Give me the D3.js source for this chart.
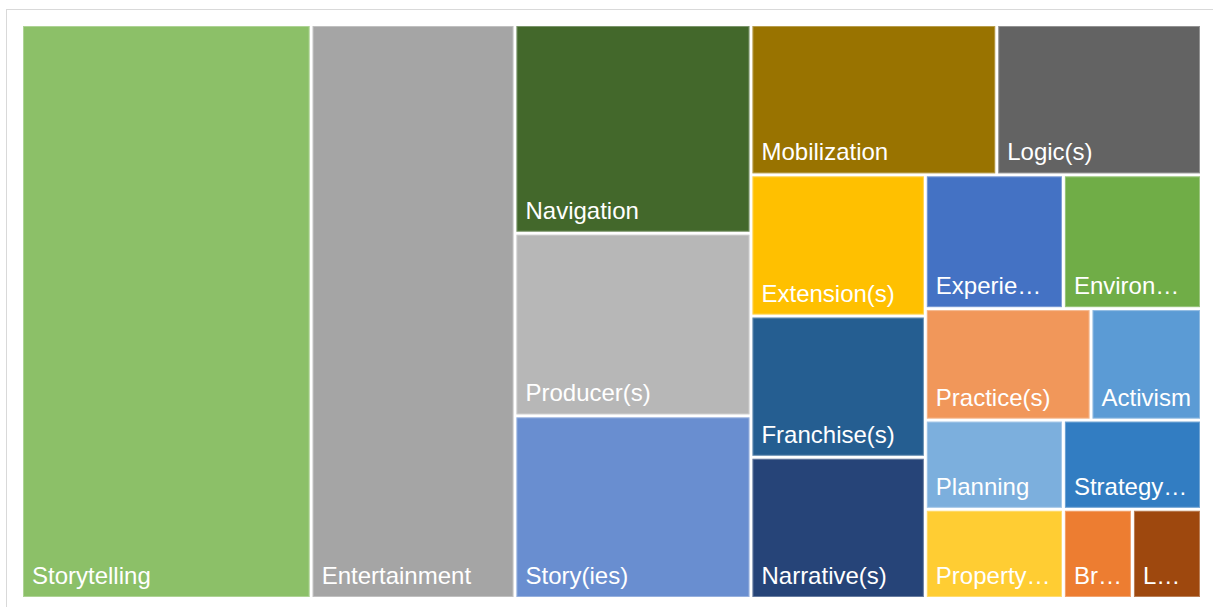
<!DOCTYPE html>
<html>
<head>
<meta charset="utf-8">
<script src="https://cdnjs.cloudflare.com/ajax/libs/d3/7.8.5/d3.min.js"></script>
<style>
  body { margin: 0; background: #fff; }
  svg { display: block; }
  .cell-label { font-family: "Liberation Sans", Arial, sans-serif; font-size: 24px; fill: #fff; }
</style>
</head>
<body>
<div id="chart"></div>
<script>
// Transmedia keyword treemap

const categories = [
  'Storytelling', 'Entertainment', 'Navigation', 'Producer(s)', 'Story(ies)',
  'Mobilization', 'Logic(s)', 'Extension(s)', 'Franchise(s)', 'Narrative(s)',
  'Experience(s)', 'Environment(s)', 'Practice(s)', 'Activism', 'Planning',
  'Strategy(ies)', 'Property(ies)', 'Branding', 'Location(s)'
];
const counts = [27, 19, 8, 7, 7, 6, 5, 4, 4, 4, 3, 3, 3, 2, 2, 2, 2, 1, 1];
const colors = [
  '#8cc068', '#a5a5a5', '#43682b', '#b7b7b7', '#698ed0',
  '#997300', '#636363', '#ffc000', '#255e91', '#264478',
  '#4472c4', '#70ad47', '#f1975a', '#5b9bd5', '#7cafdd',
  '#327dc2', '#ffcd33', '#ed7d31', '#9e480e'
];

// how Excel stacked the strips: number of cells per strip and its direction
const strips = [
  [1, 'col'], [1, 'col'], [3, 'col'], [2, 'row'], [3, 'col'],
  [2, 'row'], [2, 'row'], [2, 'row'], [3, 'row']
];

const width = 1213, height = 607;
const plot = { x0: 23, y0: 26, x1: 1200, y1: 597 };

const svg = d3.select('#chart').append('svg')
  .attr('width', width)
  .attr('height', height);

// chart frame
svg.append('rect')
  .attr('x', 6.5).attr('y', 9.5)
  .attr('width', 1212).attr('height', 604)
  .attr('fill', '#fff')
  .attr('stroke', '#d9d9d9');

function excelTile(parent, x0, y0, x1, y1) {
  const nodes = parent.children;
  let value = parent.value, i = 0;
  strips.forEach(([n, dir]) => {
    const kids = nodes.slice(i, i + n);
    const sum = d3.sum(kids, d => d.value);
    const row = { children: kids, value: sum };
    if (dir === 'col') {
      const xe = x0 + (x1 - x0) * sum / value;
      d3.treemapSlice(row, x0, y0, xe, y1);
      x0 = xe;
    } else {
      const ye = y0 + (y1 - y0) * sum / value;
      d3.treemapDice(row, x0, y0, x1, ye);
      y0 = ye;
    }
    value -= sum;
    i += n;
  });
}

const root = d3.hierarchy({
  children: categories.map((name, i) => ({ name, value: counts[i], color: colors[i] }))
}).sum(d => d.value || 0);

d3.treemap()
  .tile(excelTile)
  .size([plot.x1 - plot.x0, plot.y1 - plot.y0])
  .paddingInner(3)(root);

const g = svg.append('g').attr('transform', `translate(${plot.x0},${plot.y0})`);

const cell = g.selectAll('g.cell')
  .data(root.leaves())
  .join('g')
  .attr('class', 'cell')
  .attr('transform', d => `translate(${d.x0},${d.y0})`);

cell.append('rect')
  .attr('width', d => d.x1 - d.x0)
  .attr('height', d => d.y1 - d.y0)
  .attr('fill', d => d.data.color);

cell.append('rect')
  .attr('x', 0.5).attr('y', 0.5)
  .attr('width', d => d.x1 - d.x0 - 1)
  .attr('height', d => d.y1 - d.y0 - 1)
  .attr('fill', 'none')
  .attr('stroke', 'rgba(255,255,255,0.3)');

const pad = 17.2;
cell.append('text')
  .attr('class', 'cell-label')
  .attr('x', 9)
  .attr('y', d => d.y1 - d.y0 - 13)
  .each(function (d) {
    const t = d3.select(this);
    const avail = d.x1 - d.x0 - pad;
    let s = d.data.name;
    t.text(s);
    if (this.getComputedTextLength() <= avail) return;
    while (s.length > 1) {
      s = s.slice(0, -1);
      t.text(s + '…');
      if (this.getComputedTextLength() <= avail) break;
    }
  });
</script>
</body>
</html>
